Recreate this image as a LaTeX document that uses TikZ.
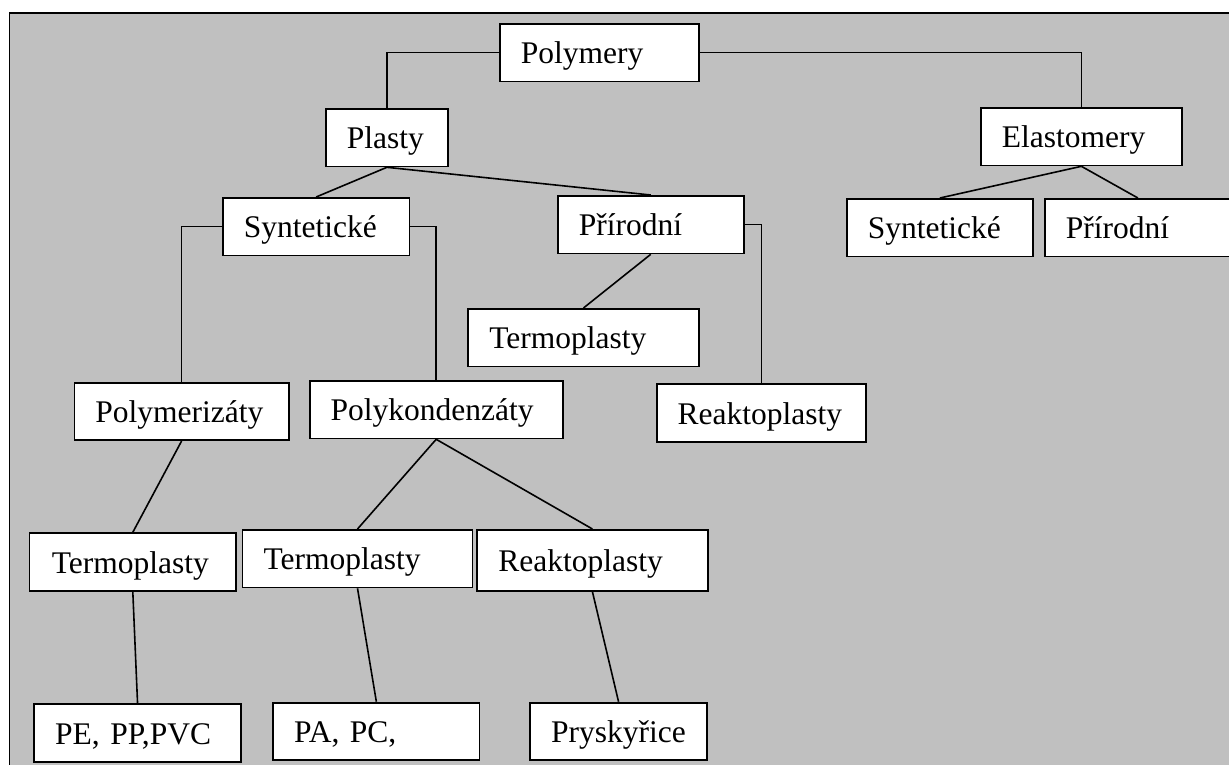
\documentclass[tikz,border=0pt]{standalone}
\usepackage{fontspec}
\setmainfont{Liberation Serif}
\definecolor{panelgray}{RGB}{192,192,192}

\begin{document}
\begin{tikzpicture}[
    x=1pt, y=-1pt,
    box/.style ={draw,fill=white,line width=1.8pt,anchor=north west,
                 inner xsep=21pt,inner ysep=0pt,text height=40pt,text depth=17.5pt,
                 align=left,font=\fontsize{31.5}{38}\selectfont},
    link/.style={line width=1.6pt,black}
]
\clip (0,0) rectangle (1229,764);
\draw[fill=panelgray,line width=1.8pt] (9.5,13) rectangle (1250,790);

% top levels
\node[box,text width=157pt]   (poly)     at (499,23)      {Polymery};
\node[box,text width=80pt]    (plasty)   at (325,108)     {Plasty};
\node[box,text width=159pt]   (elast)    at (980,107)     {Elastomery};
\node[box,text width=144.5pt] (syntP)    at (222,197)     {Syntetické};
\node[box,text width=143.7pt] (prirP)    at (557,195)     {Přírodní};
\node[box,text width=144pt]   (syntE)    at (846,198)     {Syntetické};
\node[box,text width=144pt]   (prirE)    at (1044,198)    {Přírodní};

% plasty, middle
\node[box,text width=188.3pt] (termoP)   at (467.4,308)   {Termoplasty};
\node[box,text width=167.6pt] (reaktoP)  at (655.7,383.3) {Reaktoplasty};
\node[box,text width=172.4pt] (polymer)  at (73.5,381.7)  {Polymerizáty};
\node[box,text width=211pt]   (polykond) at (308.8,380)   {Polykondenzáty};
\node[box,text width=162pt,inner xsep=22.4pt]
                              (termoA)   at (28.5,532.3)  {Termoplasty};
\node[box,text width=188pt]   (termoB)   at (241.6,529)   {Termoplasty};
\node[box,text width=188.3pt,minimum height=61pt]
                              (reaktoB)  at (476.4,529)   {Reaktoplasty};

% examples
\node[box,text width=164.7pt] (pe)       at (33.3,703.3)  {PE, PP,PVC};
\node[box,text width=164.3pt] (pa)       at (272.3,701.7) {PA, PC,};
\node[box,text width=134.7pt] (prysk)    at (529.3,701.7) {Pryskyřice};

\draw[link] (poly.west)      -| (plasty.north);
\draw[link] (poly.east)      -| (elast.north);
\draw[link] (plasty.south)   -- (syntP.north);
\draw[link] (plasty.south)   -- (prirP.north);
\draw[link] (elast.south)    -- (syntE.north);
\draw[link] (elast.south)    -- (prirE.north);
\draw[link] (syntP.west)     -| (polymer.north);
\draw[link] (syntP.east)     -| (polykond.north);
\draw[link] (prirP.south)    -- (termoP.north);
\draw[link] (prirP.east)     -| (reaktoP.north);
\draw[link] (polymer.south)  -- (termoA.north);
\draw[link] (polykond.south) -- (termoB.north);
\draw[link] (polykond.south) -- (reaktoB.north);
\draw[link] (termoA.south)   -- (pe.north);
\draw[link] (termoB.south)   -- (pa.north);
\draw[link] (reaktoB.south)  -- (prysk.north);

\end{tikzpicture}
\end{document}
